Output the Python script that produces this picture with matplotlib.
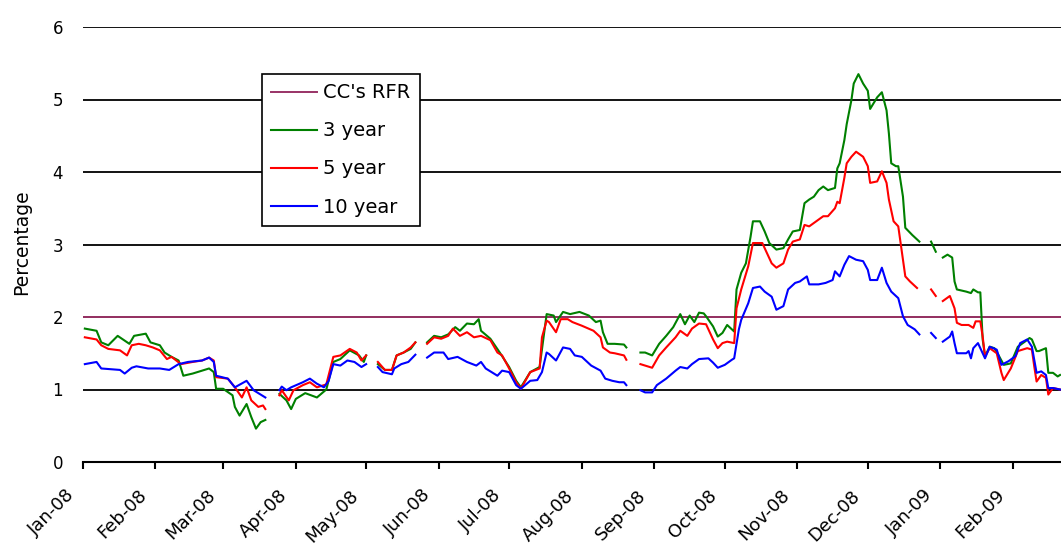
import numpy as np
import pandas as pd
import matplotlib
matplotlib.use("Agg")
import matplotlib.pyplot as plt
import matplotlib.dates as mdates
from matplotlib.transforms import ScaledTranslation

nan = np.nan

# CC's risk-free rate (flat)
rfr_dates = ["2008-01-01", "2009-02-28"]
rfr_values = [2.0, 2.0]

# 3 year yield (%), gaps on bank holidays
y3_dates = [
    "2008-01-02", "2008-01-07", "2008-01-09", "2008-01-12", "2008-01-16", "2008-01-21",
    "2008-01-23", "2008-01-28", "2008-01-30", "2008-02-03", "2008-02-05", "2008-02-08",
    "2008-02-11", "2008-02-13", "2008-02-17", "2008-02-21", "2008-02-24", "2008-02-26",
    "2008-02-27", "2008-03-01", "2008-03-05", "2008-03-06", "2008-03-08", "2008-03-11",
    "2008-03-13", "2008-03-15", "2008-03-17", "2008-03-19", "2008-03-21", "2008-03-25",
    "2008-03-28", "2008-03-30", "2008-04-01", "2008-04-05", "2008-04-10", "2008-04-14",
    "2008-04-17", "2008-04-20", "2008-04-24", "2008-04-28", "2008-04-30", "2008-05-01",
    "2008-05-04", "2008-05-06", "2008-05-09", "2008-05-12", "2008-05-14", "2008-05-17",
    "2008-05-20", "2008-05-22", "2008-05-24", "2008-05-27", "2008-05-30", "2008-06-02",
    "2008-06-05", "2008-06-08", "2008-06-10", "2008-06-13", "2008-06-16", "2008-06-18",
    "2008-06-19", "2008-06-23", "2008-06-27", "2008-07-01", "2008-07-04", "2008-07-06",
    "2008-07-10", "2008-07-14", "2008-07-17", "2008-07-20", "2008-07-21", "2008-07-24",
    "2008-07-27", "2008-07-31", "2008-08-04", "2008-08-07", "2008-08-09", "2008-08-10",
    "2008-08-12", "2008-08-15", "2008-08-19", "2008-08-20", "2008-08-24", "2008-08-26",
    "2008-08-28", "2008-08-31", "2008-09-03", "2008-09-06", "2008-09-09", "2008-09-12",
    "2008-09-14", "2008-09-16", "2008-09-18", "2008-09-20", "2008-09-22", "2008-09-23",
    "2008-09-26", "2008-09-28", "2008-09-30", "2008-10-02", "2008-10-05", "2008-10-06",
    "2008-10-08", "2008-10-10", "2008-10-12", "2008-10-13", "2008-10-16", "2008-10-18",
    "2008-10-20", "2008-10-23", "2008-10-26", "2008-10-28", "2008-10-30", "2008-11-02",
    "2008-11-04", "2008-11-06", "2008-11-08", "2008-11-10", "2008-11-12", "2008-11-14",
    "2008-11-17", "2008-11-18", "2008-11-19", "2008-11-21", "2008-11-22", "2008-11-24",
    "2008-11-25", "2008-11-27", "2008-11-29", "2008-12-01", "2008-12-02", "2008-12-05",
    "2008-12-07", "2008-12-09", "2008-12-10", "2008-12-11", "2008-12-13", "2008-12-14",
    "2008-12-16", "2008-12-17", "2008-12-20", "2008-12-23", "2008-12-25", "2008-12-28",
    "2008-12-30", "2009-01-01", "2009-01-02", "2009-01-04", "2009-01-06", "2009-01-07",
    "2009-01-08", "2009-01-12", "2009-01-14", "2009-01-15", "2009-01-17", "2009-01-18",
    "2009-01-19", "2009-01-20", "2009-01-22", "2009-01-24", "2009-01-26", "2009-01-28",
    "2009-01-31", "2009-02-03", "2009-02-06", "2009-02-08", "2009-02-09", "2009-02-11",
    "2009-02-12", "2009-02-15", "2009-02-16", "2009-02-18", "2009-02-20", "2009-02-21",
]
y3_values = [
    1.84, 1.81, 1.65, 1.61, 1.74, 1.63,
    1.74, 1.77, 1.65, 1.61, 1.51, 1.45,
    1.40, 1.19, 1.22, 1.26, 1.29, 1.24,
    1.01, 1.01, 0.92, 0.76, 0.64, 0.80,
    0.62, 0.46, 0.55, 0.58, nan, 0.94,
    0.85, 0.73, 0.87, 0.95, 0.89, 1.00,
    1.38, 1.42, 1.54, 1.47, 1.38, 1.47,
    nan, 1.35, 1.27, 1.27, 1.47, 1.51,
    1.56, 1.65, nan, 1.65, 1.74, 1.72,
    1.76, 1.86, 1.81, 1.91, 1.90, 1.97,
    1.81, 1.70, 1.51, 1.31, 1.12, 1.03,
    1.24, 1.31, 2.04, 2.02, 1.93, 2.07,
    2.04, 2.07, 2.02, 1.93, 1.95, 1.79,
    1.63, 1.63, 1.62, 1.58, nan, 1.51,
    1.51, 1.47, 1.63, 1.74, 1.86, 2.04,
    1.90, 2.02, 1.93, 2.06, 2.05, 2.01,
    1.87, 1.73, 1.78, 1.89, 1.80, 2.38,
    2.61, 2.74, 3.11, 3.32, 3.32, 3.18,
    3.02, 2.93, 2.95, 3.07, 3.18, 3.20,
    3.57, 3.62, 3.66, 3.75, 3.80, 3.75,
    3.78, 4.05, 4.12, 4.44, 4.66, 4.99,
    5.22, 5.35, 5.22, 5.12, 4.87, 5.03,
    5.10, 4.85, 4.53, 4.12, 4.08, 4.08,
    3.66, 3.23, 3.13, 3.04, nan, 3.04,
    2.90, nan, 2.82, 2.86, 2.82, 2.49,
    2.38, 2.35, 2.33, 2.38, 2.34, 2.34,
    1.69, 1.46, 1.59, 1.57, 1.46, 1.34,
    1.36, 1.59, 1.66, 1.71, 1.69, 1.53,
    1.53, 1.57, 1.23, 1.23, 1.18, 1.20,
]

# 5 year yield (%)
y5_dates = [
    "2008-01-02", "2008-01-07", "2008-01-09", "2008-01-12", "2008-01-17", "2008-01-20",
    "2008-01-22", "2008-01-25", "2008-01-28", "2008-01-31", "2008-02-03", "2008-02-06",
    "2008-02-08", "2008-02-12", "2008-02-17", "2008-02-21", "2008-02-24", "2008-02-26",
    "2008-02-27", "2008-03-03", "2008-03-06", "2008-03-09", "2008-03-11", "2008-03-13",
    "2008-03-16", "2008-03-18", "2008-03-19", "2008-03-21", "2008-03-25", "2008-03-26",
    "2008-03-29", "2008-03-31", "2008-04-04", "2008-04-07", "2008-04-10", "2008-04-14",
    "2008-04-17", "2008-04-20", "2008-04-24", "2008-04-27", "2008-04-29", "2008-05-01",
    "2008-05-04", "2008-05-06", "2008-05-09", "2008-05-12", "2008-05-14", "2008-05-17",
    "2008-05-20", "2008-05-22", "2008-05-24", "2008-05-27", "2008-05-30", "2008-06-02",
    "2008-06-05", "2008-06-07", "2008-06-10", "2008-06-13", "2008-06-16", "2008-06-19",
    "2008-06-23", "2008-06-26", "2008-06-28", "2008-07-01", "2008-07-04", "2008-07-06",
    "2008-07-10", "2008-07-14", "2008-07-15", "2008-07-17", "2008-07-18", "2008-07-21",
    "2008-07-23", "2008-07-26", "2008-07-28", "2008-08-01", "2008-08-06", "2008-08-09",
    "2008-08-10", "2008-08-13", "2008-08-15", "2008-08-19", "2008-08-20", "2008-08-24",
    "2008-08-26", "2008-08-28", "2008-08-31", "2008-09-03", "2008-09-06", "2008-09-10",
    "2008-09-12", "2008-09-15", "2008-09-17", "2008-09-20", "2008-09-23", "2008-09-26",
    "2008-09-28", "2008-09-30", "2008-10-02", "2008-10-05", "2008-10-06", "2008-10-08",
    "2008-10-11", "2008-10-13", "2008-10-17", "2008-10-19", "2008-10-21", "2008-10-23",
    "2008-10-26", "2008-10-28", "2008-10-30", "2008-11-02", "2008-11-04", "2008-11-06",
    "2008-11-09", "2008-11-12", "2008-11-14", "2008-11-17", "2008-11-18", "2008-11-19",
    "2008-11-21", "2008-11-22", "2008-11-24", "2008-11-26", "2008-11-29", "2008-12-01",
    "2008-12-02", "2008-12-05", "2008-12-07", "2008-12-09", "2008-12-10", "2008-12-12",
    "2008-12-14", "2008-12-15", "2008-12-17", "2008-12-19", "2008-12-22", "2008-12-25",
    "2008-12-28", "2008-12-30", "2009-01-01", "2009-01-02", "2009-01-05", "2009-01-07",
    "2009-01-08", "2009-01-10", "2009-01-13", "2009-01-15", "2009-01-16", "2009-01-18",
    "2009-01-19", "2009-01-20", "2009-01-22", "2009-01-25", "2009-01-27", "2009-01-28",
    "2009-01-31", "2009-02-03", "2009-02-07", "2009-02-09", "2009-02-10", "2009-02-11",
    "2009-02-13", "2009-02-15", "2009-02-16", "2009-02-18", "2009-02-21",
]
y5_values = [
    1.72, 1.69, 1.61, 1.56, 1.54, 1.47,
    1.61, 1.63, 1.61, 1.58, 1.54, 1.42,
    1.45, 1.35, 1.38, 1.40, 1.44, 1.40,
    1.17, 1.15, 1.03, 0.89, 1.03, 0.85,
    0.76, 0.78, 0.73, nan, 0.92, 0.99,
    0.85, 0.99, 1.06, 1.10, 1.03, 1.07,
    1.45, 1.47, 1.56, 1.51, 1.40, 1.47,
    nan, 1.38, 1.27, 1.27, 1.47, 1.51,
    1.58, 1.65, nan, 1.63, 1.72, 1.70,
    1.74, 1.84, 1.74, 1.79, 1.72, 1.74,
    1.68, 1.51, 1.47, 1.29, 1.10, 1.01,
    1.24, 1.29, 1.72, 1.95, 1.93, 1.79,
    1.97, 1.97, 1.93, 1.88, 1.81, 1.72,
    1.58, 1.51, 1.50, 1.47, 1.41, nan,
    1.35, 1.33, 1.30, 1.47, 1.58, 1.72,
    1.81, 1.74, 1.84, 1.91, 1.90, 1.69,
    1.57, 1.64, 1.66, 1.64, 2.12, 2.38,
    2.70, 3.02, 3.02, 2.88, 2.74, 2.68,
    2.74, 2.93, 3.04, 3.07, 3.27, 3.25,
    3.32, 3.39, 3.39, 3.50, 3.59, 3.57,
    3.92, 4.12, 4.21, 4.28, 4.21, 4.08,
    3.85, 3.87, 4.01, 3.85, 3.62, 3.32,
    3.25, 3.02, 2.56, 2.49, 2.40, nan,
    2.38, 2.29, nan, 2.22, 2.29, 2.12,
    1.92, 1.89, 1.89, 1.85, 1.94, 1.94,
    1.73, 1.46, 1.57, 1.50, 1.23, 1.13,
    1.29, 1.53, 1.57, 1.55, 1.32, 1.11,
    1.20, 1.16, 0.93, 1.02, 1.00,
]

# 10 year yield (%)
y10_dates = [
    "2008-01-02", "2008-01-07", "2008-01-09", "2008-01-17", "2008-01-19", "2008-01-22",
    "2008-01-24", "2008-01-29", "2008-02-03", "2008-02-07", "2008-02-11", "2008-02-15",
    "2008-02-21", "2008-02-24", "2008-02-26", "2008-02-27", "2008-03-03", "2008-03-06",
    "2008-03-11", "2008-03-14", "2008-03-19", "2008-03-21", "2008-03-25", "2008-03-26",
    "2008-03-28", "2008-03-30", "2008-04-04", "2008-04-07", "2008-04-10", "2008-04-13",
    "2008-04-15", "2008-04-17", "2008-04-20", "2008-04-23", "2008-04-26", "2008-04-29",
    "2008-05-01", "2008-05-04", "2008-05-06", "2008-05-08", "2008-05-12", "2008-05-13",
    "2008-05-16", "2008-05-19", "2008-05-22", "2008-05-24", "2008-05-27", "2008-05-30",
    "2008-06-03", "2008-06-05", "2008-06-09", "2008-06-13", "2008-06-17", "2008-06-19",
    "2008-06-21", "2008-06-26", "2008-06-28", "2008-07-01", "2008-07-04", "2008-07-06",
    "2008-07-10", "2008-07-13", "2008-07-15", "2008-07-17", "2008-07-18", "2008-07-21",
    "2008-07-24", "2008-07-27", "2008-07-29", "2008-08-01", "2008-08-05", "2008-08-09",
    "2008-08-11", "2008-08-14", "2008-08-17", "2008-08-19", "2008-08-20", "2008-08-24",
    "2008-08-26", "2008-08-28", "2008-08-31", "2008-09-02", "2008-09-06", "2008-09-10",
    "2008-09-12", "2008-09-15", "2008-09-17", "2008-09-20", "2008-09-24", "2008-09-26",
    "2008-09-28", "2008-10-01", "2008-10-04", "2008-10-05", "2008-10-07", "2008-10-08",
    "2008-10-11", "2008-10-13", "2008-10-16", "2008-10-18", "2008-10-21", "2008-10-23",
    "2008-10-26", "2008-10-28", "2008-10-31", "2008-11-02", "2008-11-05", "2008-11-06",
    "2008-11-10", "2008-11-13", "2008-11-16", "2008-11-17", "2008-11-19", "2008-11-21",
    "2008-11-23", "2008-11-26", "2008-11-29", "2008-12-01", "2008-12-02", "2008-12-05",
    "2008-12-07", "2008-12-09", "2008-12-11", "2008-12-14", "2008-12-16", "2008-12-18",
    "2008-12-21", "2008-12-23", "2008-12-25", "2008-12-28", "2008-12-30", "2009-01-01",
    "2009-01-02", "2009-01-05", "2009-01-06", "2009-01-07", "2009-01-08", "2009-01-12",
    "2009-01-13", "2009-01-14", "2009-01-15", "2009-01-17", "2009-01-19", "2009-01-20",
    "2009-01-22", "2009-01-25", "2009-01-27", "2009-01-30", "2009-02-02", "2009-02-04",
    "2009-02-07", "2009-02-09", "2009-02-11", "2009-02-13", "2009-02-15", "2009-02-16",
    "2009-02-18", "2009-02-21",
]
y10_values = [
    1.35, 1.38, 1.29, 1.27, 1.22, 1.30,
    1.32, 1.29, 1.29, 1.27, 1.35, 1.38,
    1.40, 1.44, 1.38, 1.19, 1.15, 1.03,
    1.12, 0.99, 0.89, nan, 0.99, 1.04,
    0.99, 1.03, 1.10, 1.15, 1.08, 1.03,
    1.12, 1.35, 1.33, 1.40, 1.38, 1.31,
    1.35, nan, 1.31, 1.24, 1.21, 1.29,
    1.35, 1.38, 1.48, nan, 1.44, 1.51,
    1.51, 1.42, 1.45, 1.38, 1.33, 1.38,
    1.29, 1.19, 1.26, 1.24, 1.06, 1.01,
    1.12, 1.13, 1.24, 1.51, 1.49, 1.40,
    1.58, 1.56, 1.47, 1.45, 1.33, 1.26,
    1.15, 1.12, 1.10, 1.10, 1.06, nan,
    0.99, 0.96, 0.96, 1.06, 1.15, 1.26,
    1.31, 1.29, 1.35, 1.42, 1.43, 1.37,
    1.30, 1.34, 1.41, 1.43, 1.83, 1.96,
    2.19, 2.40, 2.42, 2.35, 2.28, 2.10,
    2.15, 2.38, 2.47, 2.49, 2.56, 2.45,
    2.45, 2.47, 2.51, 2.63, 2.56, 2.72,
    2.84, 2.79, 2.77, 2.65, 2.51, 2.51,
    2.68, 2.47, 2.35, 2.26, 2.01, 1.89,
    1.83, 1.76, nan, 1.78, 1.71, nan,
    1.66, 1.73, 1.80, 1.64, 1.50, 1.50,
    1.53, 1.43, 1.57, 1.64, 1.50, 1.43,
    1.59, 1.55, 1.34, 1.39, 1.46, 1.64,
    1.69, 1.59, 1.23, 1.25, 1.20, 1.02,
    1.02, 1.00,
]

series_labels = ["CC's RFR", "3 year", "5 year", "10 year"]
series_colors = ["#993366", "#008000", "#FF0000", "#0000FF"]
y_ticks = [0, 1, 2, 3, 4, 5, 6]

W, H = 1061, 545
fig = plt.figure(figsize=(W / 100, H / 100), dpi=100)
ax = fig.add_axes([82.5 / W, 1 - 462 / H, 1 - 82.5 / W, (462 - 27) / H])

ax.set_ylim(0, 6)
ax.set_xlim(pd.Timestamp("2008-01-01"), pd.Timestamp("2009-02-21 10:00"))

ax.set_yticks(y_ticks)
ax.yaxis.grid(True, color="black", linewidth=1.3, zorder=0)
ax.set_axisbelow(True)

ax.plot(pd.to_datetime(rfr_dates), rfr_values, color=series_colors[0], lw=1.4,
        label=series_labels[0], zorder=2)
ax.plot(pd.to_datetime(y3_dates), y3_values, color=series_colors[1], lw=1.5,
        label=series_labels[1], zorder=3)
ax.plot(pd.to_datetime(y5_dates), y5_values, color=series_colors[2], lw=1.5,
        label=series_labels[2], zorder=4)
ax.plot(pd.to_datetime(y10_dates), y10_values, color=series_colors[3], lw=1.5,
        label=series_labels[3], zorder=5)

for side in ("top", "right", "left"):
    ax.spines[side].set_visible(False)
ax.spines["bottom"].set_linewidth(1.5)
ax.spines["bottom"].set_zorder(6)

ax.xaxis.set_major_locator(mdates.MonthLocator())
ax.xaxis.set_major_formatter(mdates.DateFormatter("%b-%y"))
ax.tick_params(axis="x", direction="out", length=5, width=1.5, labelsize=13, pad=2)
ax.tick_params(axis="y", length=0, labelsize=12, pad=14)
for lab in ax.get_xticklabels():
    lab.set_rotation(45)
    lab.set_ha("right")
    lab.set_va("center")
    lab.set_rotation_mode("anchor")
    lab.set_transform(lab.get_transform() +
                      ScaledTranslation(-11 / 100, -21 / 100, fig.dpi_scale_trans))

fig.text(22 / W, 1 - 242 / H, "Percentage", rotation=90, ha="center", va="center",
         fontsize=13.5)

leg = ax.legend(loc="upper left", bbox_to_anchor=(262 / W, 1 - 74 / H),
                bbox_transform=fig.transFigure, fontsize=14, frameon=True,
                fancybox=False, handlelength=2.37, handletextpad=0.3,
                labelspacing=0.98, borderpad=0.48, borderaxespad=0)
leg.get_frame().set_edgecolor("black")
leg.get_frame().set_linewidth(1.2)
leg.get_frame().set_alpha(1)
leg.set_zorder(10)

fig.savefig("out.png", dpi=100)
